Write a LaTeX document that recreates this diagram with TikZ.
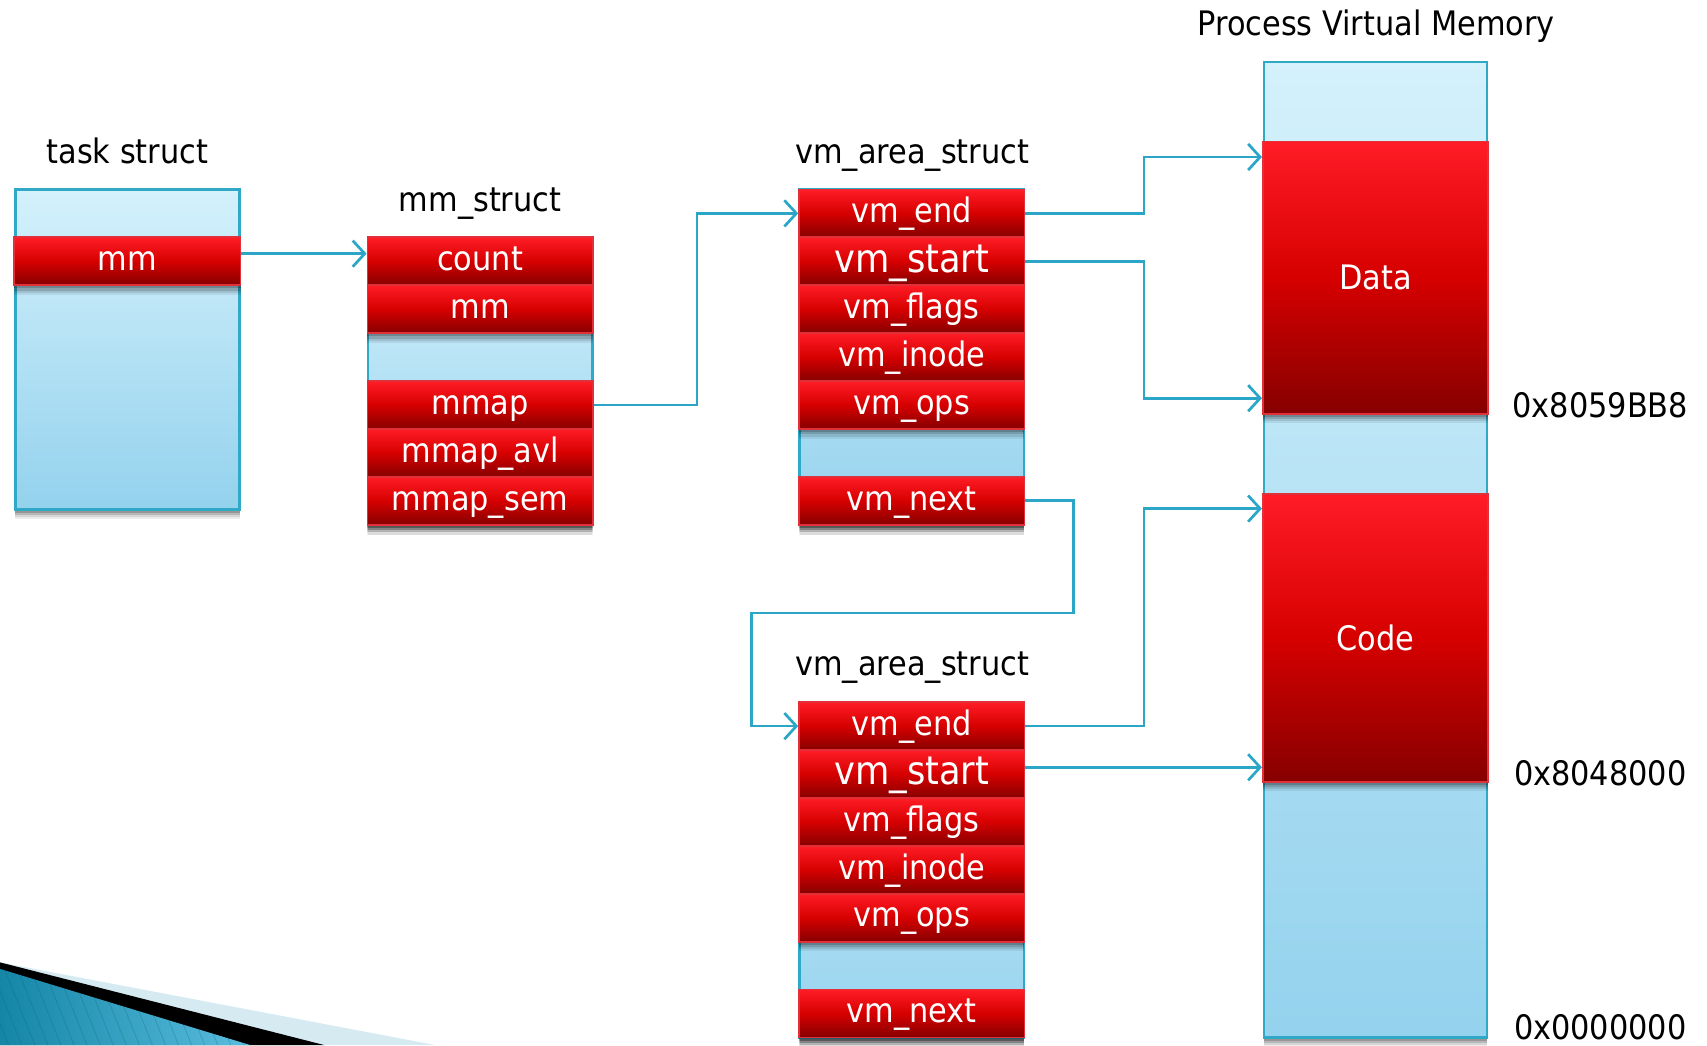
\documentclass[tikz,border=0pt]{standalone}
\usepackage{fontspec}
\setmainfont{DejaVu Sans}[FakeStretch=0.9]
\usetikzlibrary{arrows.meta,shadows,calc}
\definecolor{arrc}{HTML}{2BA6C7}
\definecolor{boxline}{HTML}{30A9C7}
\definecolor{lbtop}{HTML}{D4F1FC}
\definecolor{lbbot}{HTML}{94D2ED}
\definecolor{rtop}{HTML}{FF1C26}
\definecolor{rmid}{HTML}{D60000}
\definecolor{rbot}{HTML}{860000}
\definecolor{rline}{HTML}{E2303A}
\definecolor{pale}{HTML}{D6EAF2}
\definecolor{tealA}{HTML}{1586A6}
\definecolor{tealB}{HTML}{5DC0E2}
\begin{document}
\begin{tikzpicture}[x=1pt,y=-1pt,
  softshadow/.style={
    drop shadow={shadow xshift=0pt,shadow yshift=-9pt,opacity=0.07,fill=black},
    drop shadow={shadow xshift=0pt,shadow yshift=-7pt,opacity=0.10,fill=black},
    drop shadow={shadow xshift=0pt,shadow yshift=-5pt,opacity=0.14,fill=black},
    drop shadow={shadow xshift=0pt,shadow yshift=-3pt,opacity=0.18,fill=black}},
  lbl/.style={font=\fontsize{31}{36}\selectfont, inner sep=0pt, text=black, text height=23pt, text depth=6pt},
  rowbox/.style={rectangle, minimum width=207pt, minimum height=44pt, inner sep=0pt,
    softshadow,
    top color=rtop, bottom color=rbot, middle color=rmid, draw=rline, line width=1.6pt,
    text=white, font=\fontsize{31}{36}\selectfont, text height=23pt, text depth=6pt},
  bigrow/.style={rowbox, font=\fontsize{36}{40}\selectfont, text height=26pt, text depth=6pt},
  bluebox/.style={rectangle, minimum width=206pt, inner sep=0pt, softshadow,
    top color=lbtop, bottom color=lbbot, draw=boxline, line width=2.5pt},
  memblock/.style={rectangle, minimum width=207pt, inner sep=0pt, softshadow,
    top color=rtop, bottom color=rbot, middle color=rmid, draw=rline, line width=1.6pt,
    text=white, font=\fontsize{31}{36}\selectfont},
  arr/.style={draw=arrc, line width=2.5pt, -{Straight Barb[length=11pt,width=24pt]}}
]
\useasboundingbox (0,0) rectangle (1568,960);

% bottom-left swoosh
\fill[pale] (0,884) -- (400,960) -- (0,960) -- cycle;
\fill[black] (0,884) -- (298,960) -- (0,960) -- cycle;
\begin{scope}
  \clip (0,890) -- (230,960) -- (0,960) -- cycle;
  \fill[left color=tealA, right color=tealB] (0,880) rectangle (240,960);
  \foreach \i in {-60,-48,...,240} \draw[tealA!70!black, opacity=0.25, line width=0.8pt] (\i,880) -- (\i+32,960);
\end{scope}

% titles
\node[lbl] (t1) at (117,142) {task struct};
\node[lbl] (t2) at (441,186) {mm\_struct};
\node[lbl] (t3) at (838,142) {vm\_area\_struct};
\node[lbl] (t4) at (838,612) {vm\_area\_struct};
\node[lbl] (t5) at (1264,24) {Process Virtual Memory};

% task struct
\node[bluebox, minimum height=294pt] (tbox) at (117,321) {};
\node[rowbox, minimum width=208pt] (tmm) at (117,240) {mm};

% mm_struct
\node[bluebox, minimum height=264pt] (mmbox) at (441,350) {};
\node[rowbox] (count) at (441,240) {count};
\node[rowbox] (mmm) at (441,284) {mm};
\node[rowbox] (mmap) at (441,372) {mmap};
\node[rowbox] (mmapavl) at (441,416) {mmap\_avl};
\node[rowbox] (mmapsem) at (441,460) {mmap\_sem};

% vm_area_struct 1
\node[bluebox, minimum height=308pt] (vmbox1) at (837.5,328) {};
\node[rowbox] (end1) at (837.5,196) {vm\_end};
\node[bigrow] (start1) at (837.5,240) {vm\_start};
\node[rowbox] (flags1) at (837.5,284) {vm\_flags};
\node[rowbox] (inode1) at (837.5,328) {vm\_inode};
\node[rowbox] (ops1) at (837.5,372) {vm\_ops};
\node[rowbox] (next1) at (837.5,460) {vm\_next};

% vm_area_struct 2
\node[bluebox, minimum height=308pt] (vmbox2) at (837.5,799) {};
\node[rowbox] (end2) at (837.5,667) {vm\_end};
\node[bigrow] (start2) at (837.5,711) {vm\_start};
\node[rowbox] (flags2) at (837.5,755) {vm\_flags};
\node[rowbox] (inode2) at (837.5,799) {vm\_inode};
\node[rowbox] (ops2) at (837.5,843) {vm\_ops};
\node[rowbox] (next2) at (837.5,931) {vm\_next};

% process virtual memory
\node[bluebox, minimum width=205pt, minimum height=896pt] (mem) at (1263.5,505) {};
\node[memblock, minimum height=250pt] (data) at (1263.5,255) {Data};
\node[memblock, minimum height=264pt] (code) at (1263.5,586) {Code};

% addresses
\node[lbl] (a1) at (1470,375) {0x8059BB8};
\node[lbl] (a2) at (1470,713) {0x8048000};
\node[lbl] (a3) at (1470,946) {0x0000000};

% connector coordinates
\coordinate (d1) at ($(data.north west)+(0,15)$);
\coordinate (d2) at ($(data.south west)+(0,-15)$);
\coordinate (c1) at ($(code.north west)+(0,14)$);
\coordinate (c2) at ($(code.south west)+(0,-14)$);
\coordinate (loop) at (690,563);

% connectors
\draw[arr] ([yshift=7pt]tmm.east) -- ([yshift=7pt]count.west);
\draw[arr] (mmap.east) -- ++(95,0) |- (end1.west);
\draw[arr] (end1.east) -- ++(109,0) |- (d1);
\draw[arr] (start1.east) -- ++(109,0) |- (d2);
\draw[arr] (next1.east) -- ++(44,0) |- (loop) |- (end2.west);
\draw[arr] (end2.east) -- ++(109,0) |- (c1);
\draw[arr] (start2.east |- c2) -- (c2);
\end{tikzpicture}
\end{document}
